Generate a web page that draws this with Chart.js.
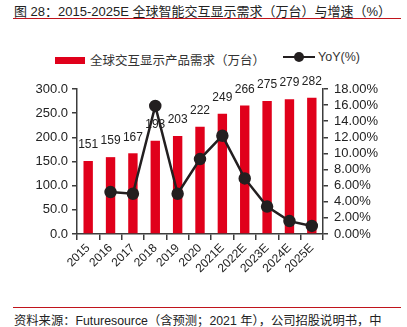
<!DOCTYPE html>
<html>
<head>
<meta charset="utf-8">
<script src="https://cdn.jsdelivr.net/npm/chart.js@4/dist/chart.umd.min.js"></script>
<style>
  html, body { margin: 0; padding: 0; background: #fff; }
  body { width: 407px; height: 327px; position: relative; overflow: hidden;
         font-family: "Liberation Sans", "Noto Sans CJK SC", sans-serif; color: #222; }
  .title { position: absolute; left: 14px; top: 1px; font-size: 13px; white-space: nowrap; }
  .rule { position: absolute; left: 13px; width: 388px; height: 1px; background: #c0141c; }
  .source { position: absolute; left: 14px; top: 311px; font-size: 12.3px; white-space: nowrap; }
  .legend { position: absolute; top: 50px; font-size: 12.5px; color: #333; white-space: nowrap; }
  .swatch-bar { display: inline-block; width: 30px; height: 7px; background: #e0001b; vertical-align: middle; margin-right: 5px; position: relative; top: -1px; }
  .swatch-line { display: inline-block; width: 32px; height: 2px; background: #231f20; vertical-align: middle; margin-right: 3px; position: relative; top: -1px; }
  .swatch-line::after { content: ""; position: absolute; left: 11px; top: -4px; width: 10px; height: 10px; border-radius: 50%; background: #231f20; }
  #chart { position: absolute; left: 0; top: 30px; }
</style>
</head>
<body>
<div class="title">图 28：2015-2025E 全球智能交互显示需求（万台）与增速（%）</div>
<div class="rule" style="top:18px"></div>
<div class="legend" style="left:55px"><span class="swatch-bar"></span>全球交互显示产品需求（万台）</div>
<div class="legend" style="left:283px"><span class="swatch-line"></span>YoY(%)</div>
<canvas id="chart" width="407" height="272"></canvas>
<div class="rule" style="top:307px"></div>
<div class="source">资料来源：Futuresource（含预测；2021 年），公司招股说明书，中</div>

<script>
const years = ["2015", "2016", "2017", "2018", "2019", "2020", "2021E", "2022E", "2023E", "2024E", "2025E"]
const demand = [151, 159, 167, 193, 203, 222, 249, 266, 275, 279, 282]
const yoy = [null, 5.2, 5.0, 15.9, 5.0, 9.3, 12.2, 6.9, 3.4, 1.6, 1.0]
const leftTicks = [0, 50, 100, 150, 200, 250, 300]
const rightTicks = [0, 2, 4, 6, 8, 10, 12, 14, 16, 18]

const RED = "#e0001b"
const DARK = "#231f20"
const AXIS = "#3c3c3c"
const FONT = "'Liberation Sans', 'Noto Sans CJK SC', sans-serif"

// value labels above the bars, drawn before the YoY line goes on top
const barLabels = {
    id: "barLabels",
    afterDatasetDraw(chart, args) {
        if (args.index !== 0) return
        const ctx = chart.ctx
        ctx.save()
        ctx.font = "12px " + FONT
        ctx.fillStyle = "#222"
        ctx.textAlign = "center"
        ctx.textBaseline = "middle"
        args.meta.data.forEach((bar, i) => {
            ctx.fillText(String(demand[i]), bar.x, bar.y - 16)
        })
        ctx.restore()
    },
}

const tickFont = { family: FONT, size: 13 }

new Chart(document.getElementById("chart"), {
    data: {
        labels: years,
        datasets: [
            {
                type: "bar",
                label: "全球交互显示产品需求（万台）",
                data: demand,
                backgroundColor: RED,
                yAxisID: "y",
                barPercentage: 0.42,
                categoryPercentage: 1,
                order: 1,
            },
            {
                type: "line",
                label: "YoY(%)",
                data: yoy,
                borderColor: DARK,
                backgroundColor: DARK,
                borderWidth: 2.5,
                pointRadius: 5,
                pointBackgroundColor: DARK,
                pointBorderColor: DARK,
                yAxisID: "y1",
                tension: 0,
                order: 0,
            },
        ],
    },
    options: {
        responsive: false,
        animation: false,
        devicePixelRatio: 1,
        layout: { padding: { top: 59, left: 0, right: 0, bottom: 0 } },
        plugins: {
            legend: { display: false },
            tooltip: { enabled: false },
        },
        scales: {
            x: {
                offset: true,
                grid: { display: true, offset: true, drawOnChartArea: false, drawTicks: true, tickLength: 6, color: AXIS, lineWidth: 1.5 },
                border: { display: true, color: AXIS, width: 1.5 },
                ticks: { color: "#222", font: { family: FONT, size: 12 }, minRotation: 45, maxRotation: 45, autoSkip: false, padding: 1 },
                afterFit: (s) => { s.height = 68 },
            },
            y: {
                position: "left",
                min: 0,
                max: 300,
                afterBuildTicks: (s) => { s.ticks = leftTicks.map(v => ({ value: v })) },
                grid: { drawOnChartArea: false, drawTicks: true, tickLength: 5, color: AXIS, lineWidth: 1.5 },
                border: { display: true, color: AXIS, width: 1.5 },
                ticks: { color: "#222", font: tickFont, padding: 4, autoSkip: false, callback: (v) => v.toFixed(1) },
                afterFit: (s) => { s.width = 77 },
            },
            y1: {
                position: "right",
                min: 0,
                max: 18,
                afterBuildTicks: (s) => { s.ticks = rightTicks.map(v => ({ value: v })) },
                grid: { drawOnChartArea: false, drawTicks: true, tickLength: 5, color: AXIS, lineWidth: 1.5 },
                border: { display: true, color: AXIS, width: 1.5 },
                ticks: { color: "#222", font: tickFont, padding: 6, autoSkip: false, callback: (v) => v.toFixed(2) + "%" },
                afterFit: (s) => { s.width = 84 },
            },
        },
    },
    plugins: [barLabels],
})
</script>
</body>
</html>
